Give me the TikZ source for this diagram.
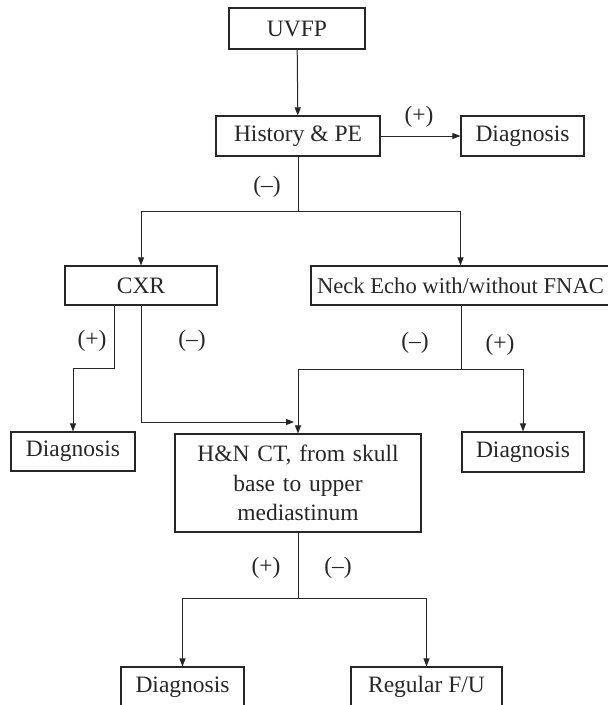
\documentclass[tikz,border=0pt]{standalone}
\usepackage{fontspec}
\setmainfont{Liberation Serif}
\usepackage{tikz}
\usepackage{xcolor}
\usetikzlibrary{arrows.meta}
\definecolor{ink}{HTML}{262626}
\tikzset{
    plain-box/.style = {draw=ink, text=ink, line width=1.1pt, rectangle, inner sep=0pt, align=center},
    sign-label/.style = {text=ink, inner sep=0pt},
    flow-line/.style = {draw=ink, line width=1pt},
    flow-arrow/.style = {flow-line, -{Triangle[length=8pt, width=6pt]}},
}

\begin{document}
\begin{tikzpicture}[x=1pt, y=-1pt, font=\fontsize{23.5}{29.5}\selectfont]
\useasboundingbox (0,0) rectangle (608,705);
% boxes
\node [plain-box, minimum width=136pt, minimum height=41pt] (uvfp) at (297,28.5) {UVFP};
\node [plain-box, minimum width=164pt, minimum height=40pt] (hist) at (298,136) {History \& PE};
\node [plain-box, minimum width=123pt, minimum height=40pt] (diag-top) at (522.5,136) {Diagnosis};
\node [plain-box, minimum width=152pt, minimum height=39pt] (cxr) at (141,285.5) {CXR};
\node [plain-box, minimum width=299pt, minimum height=39pt, font=\fontsize{22.6}{28}\selectfont] (neck) at (460.5,285.5) {Neck Echo with/without FNAC};
\node [plain-box, minimum width=124pt, minimum height=39pt] (diag-left) at (73,451.5) {Diagnosis};
\node [plain-box, minimum width=246pt, minimum height=98pt, text width=240pt] (hnct) at (298,483) {H\&N CT, from skull\\base to upper\\mediastinum};
\node [plain-box, minimum width=122pt, minimum height=40pt] (diag-right) at (523,452) {Diagnosis};
\node [plain-box, minimum width=123pt, minimum height=40pt] (diag-bottom) at (182.5,687) {Diagnosis};
\node [plain-box, minimum width=151pt, minimum height=40pt] (regfu) at (426.5,687) {Regular F/U};

% branch points
\coordinate (split-a) at (298,211);
\coordinate (cxr-pos) at (114,368);
\coordinate (cxr-neg) at (141,422);
\coordinate (cxr-neg-end) at (294,422);
\coordinate (split-b) at (461,369);
\coordinate (split-c) at (298,598);

% connectors
\draw [flow-arrow] (uvfp) -- (hist);
\draw [flow-arrow] (hist) -- (diag-top);
\draw [flow-line] (hist.south) -- (split-a);
\draw [flow-arrow] (split-a) -| (cxr.north);
\draw [flow-arrow] (split-a) -| (neck.north);
\draw [flow-arrow] (cxr.south -| cxr-pos) -- (cxr-pos) -| (diag-left.north);
\draw [flow-arrow] (cxr.south -| cxr-neg) -- (cxr-neg) -- (cxr-neg-end);
\draw [flow-line] (neck.south -| split-b) -- (split-b);
\draw [flow-arrow] (split-b) -| (hnct.north);
\draw [flow-arrow] (split-b) -| (diag-right.north);
\draw [flow-line] (hnct.south) -- (split-c);
\draw [flow-arrow] (split-c) -| (diag-bottom.north);
\draw [flow-arrow] (split-c) -| (regfu.north);

% signs
\node [sign-label] (hist-pos) at (419,117) {(+)};
\node [sign-label] (hist-neg) at (267,187) {(--)};
\node [sign-label] (cxr-pos-label) at (92,341) {(+)};
\node [sign-label] (cxr-neg-label) at (192,341) {(--)};
\node [sign-label] (neck-neg-label) at (415,343) {(--)};
\node [sign-label] (neck-pos-label) at (500,345) {(+)};
\node [sign-label] (hnct-pos-label) at (266,568) {(+)};
\node [sign-label] (hnct-neg-label) at (338,568) {(--)};
\end{tikzpicture}
\end{document}
